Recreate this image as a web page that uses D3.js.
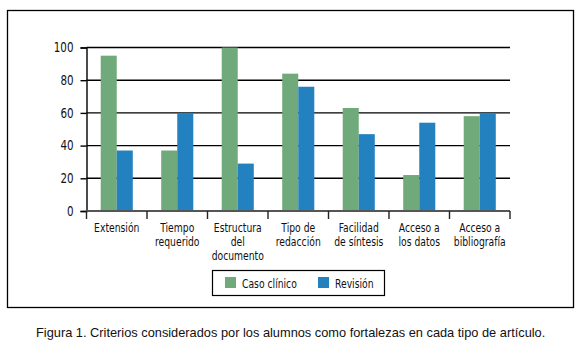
<!DOCTYPE html>
<html>
<head>
	<meta charset="utf-8">
	<title>Criterios</title>
	<script src="https://cdn.jsdelivr.net/npm/d3@7"></script>
	<style>
		body { margin: 0; background: #fff; }
		.cond { font-family: "DejaVu Sans", sans-serif; font-stretch: condensed; }
	</style>
</head>
<body>
	<div id="chart"></div>
	<script>

		// data
		const categories = [
			["Extensión"],
			["Tiempo", "requerido"],
			["Estructura", "del", "documento"],
			["Tipo de", "redacción"],
			["Facilidad", "de síntesis"],
			["Acceso a", "los datos"],
			["Acceso a", "bibliografía"]
		];
		const series = ["Caso clínico", "Revisión"];
		const casoClinico = [95, 37, 100, 84, 63, 22, 58];
		const revision = [37, 60, 29, 76, 47, 54, 60];
		const yTicks = [0, 20, 40, 60, 80, 100];
		const caption = "Figura 1. Criterios considerados por los alumnos como fortalezas en cada tipo de artículo.";

		const width = 582;
		const height = 348;
		const colors = ["#70aa7b", "#2381c0"];
		const fontSize = "13px";
		const squeeze = 0.79; // horizontal squeeze to mimic a condensed face

		const margin = { top: 47.5, right: 72, bottom: 137, left: 86.5 };

		const svg = d3.select("#chart")
			.append("svg")
			.attr("width", width)
			.attr("height", height)
			.attr("viewBox", [0, 0, width, height]);

		svg.append("rect")
			.attr("width", width).attr("height", height)
			.attr("fill", "#fff");

		// outer frame
		svg.append("rect")
			.attr("x", 7.5).attr("y", 10.5)
			.attr("width", 566).attr("height", 297)
			.attr("fill", "none")
			.attr("stroke", "#000")
			.attr("stroke-width", 1.3);

		const keys = d3.range(categories.length);
		const x0 = d3.scaleBand()
			.domain(keys)
			.range([margin.left, width - margin.right])
			.paddingInner(0.47)
			.paddingOuter(0.235);
		const x1 = d3.scaleBand()
			.domain([0, 1])
			.range([0, x0.bandwidth()]);
		const y = d3.scaleLinear()
			.domain([0, 100])
			.range([height - margin.bottom, margin.top]);

		// grid lines
		svg.append("g")
			.selectAll("line")
			.data(yTicks.filter(d => d > 0))
			.join("line")
			.attr("x1", margin.left)
			.attr("x2", width - margin.right)
			.attr("y1", d => y(d))
			.attr("y2", d => y(d))
			.attr("stroke", "#000")
			.attr("stroke-width", 1.4);

		// bars
		const values = [casoClinico, revision];
		svg.append("g")
			.selectAll("g")
			.data(keys)
			.join("g")
			.attr("transform", i => `translate(${x0(i)},0)`)
			.selectAll("rect")
			.data(i => values.map((v, s) => ({ s, v: v[i] })))
			.join("rect")
			.attr("x", d => x1(d.s))
			.attr("width", x1.bandwidth())
			.attr("y", d => y(d.v))
			.attr("height", d => y(0) - y(d.v))
			.attr("fill", d => colors[d.s]);

		// y axis
		const yAxis = d3.axisLeft(y).tickValues(yTicks).tickSize(6).tickPadding(6);
		svg.append("g")
			.attr("transform", `translate(${margin.left},0)`)
			.call(yAxis)
			.call(g => g.select(".domain").attr("stroke", "#000").attr("stroke-width", 1.4))
			.call(g => g.selectAll(".tick line").attr("stroke", "#000").attr("stroke-width", 1.4))
			.call(g => g.selectAll(".tick text")
				.attr("class", "cond")
				.attr("x", null)
				.attr("transform", `translate(-13,0) scale(0.85,1)`)
				.attr("fill", "#111")
				.style("font-size", "13.5px"));

		// x baseline and ticks at category boundaries
		const step = x0.step();
		const xb = svg.append("g");
		xb.append("line")
			.attr("x1", margin.left)
			.attr("x2", width - margin.right)
			.attr("y1", y(0))
			.attr("y2", y(0))
			.attr("stroke", "#555")
			.attr("stroke-width", 2);
		xb.selectAll(".xt")
			.data(d3.range(categories.length + 1))
			.join("line")
			.attr("class", "xt")
			.attr("x1", i => margin.left + i * step)
			.attr("x2", i => margin.left + i * step)
			.attr("y1", y(0))
			.attr("y2", y(0) + 8)
			.attr("stroke", "#222")
			.attr("stroke-width", 1.4);

		// x labels
		svg.append("g")
			.selectAll("text")
			.data(keys)
			.join("text")
			.attr("class", "cond")
			.attr("text-anchor", "middle")
			.attr("fill", "#111")
			.style("font-size", fontSize)
			.attr("transform", i => `translate(${x0(i) + x0.bandwidth() / 2},${y(0) + 21}) scale(${squeeze},1)`)
			.selectAll("tspan")
			.data(i => categories[i])
			.join("tspan")
			.attr("x", 0)
			.attr("dy", (d, j) => j === 0 ? 0 : 14)
			.text(d => d);

		// legend
		const legend = svg.append("g");
		legend.append("rect")
			.attr("x", 212.5).attr("y", 270.5)
			.attr("width", 172).attr("height", 25)
			.attr("fill", "#fff")
			.attr("stroke", "#000")
			.attr("stroke-width", 1.2);
		const lx = [225, 318];
		series.forEach((s, i) => {
			legend.append("rect")
				.attr("x", lx[i]).attr("y", 277)
				.attr("width", 11).attr("height", 11)
				.attr("fill", colors[i]);
			legend.append("text")
				.attr("class", "cond")
				.attr("transform", `translate(${lx[i] + 17},287.5) scale(${squeeze},1)`)
				.attr("fill", "#111")
				.style("font-size", fontSize)
				.text(s);
		});

		// caption
		svg.append("text")
			.attr("x", 36)
			.attr("y", 337)
			.attr("fill", "#111")
			.style("font-family", "'Liberation Sans', Arial, sans-serif")
			.style("font-size", "12.8px")
			.text(caption);

	</script>
</body>
</html>
